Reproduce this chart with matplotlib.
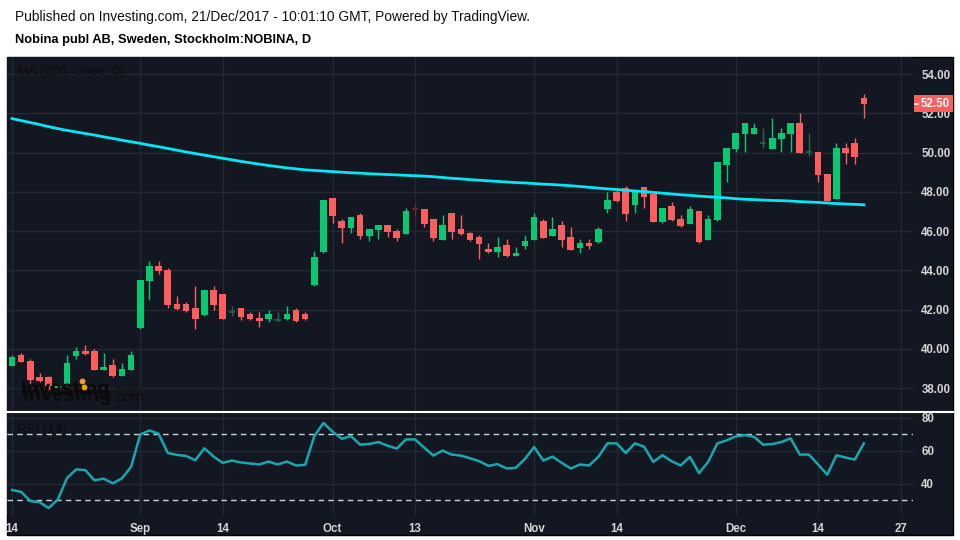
import numpy as np
import pandas as pd
import matplotlib
matplotlib.use("Agg")
import matplotlib.pyplot as plt
from matplotlib.patches import Rectangle
from matplotlib.lines import Line2D
from matplotlib.transforms import blended_transform_factory
import matplotlib.patheffects as pe

plt.rcParams['font.family'] = ['Liberation Sans', 'DejaVu Sans']

# Daily bars, NOBINA, 14 Aug 2017 - 21 Dec 2017
opens = [39.14, 39.68, 39.37, 38.56, 38.56, 37.90, 38.15, 39.63, 39.88, 39.88,
         38.92, 39.17, 38.61, 38.92, 41.06, 43.47, 44.21, 44.01, 42.28, 42.28,
         42.07, 41.72, 42.99, 42.79, 41.87, 42.07, 41.77, 41.56, 41.51, 41.46,
         41.51, 41.97, 41.77, 43.25, 44.93, 47.68, 46.51, 46.17, 46.82, 45.76,
         46.07, 46.31, 46.00, 45.86, 47.14, 47.12, 46.61, 45.56, 46.92, 46.10,
         45.90, 45.69, 45.08, 44.95, 45.29, 44.74, 45.25, 45.56, 46.51, 45.76,
         46.31, 45.69, 45.15, 45.39, 45.46, 47.14, 47.99, 48.19, 47.34, 48.27,
         47.90, 46.47, 47.27, 46.61, 46.37, 47.02, 45.56, 46.58, 49.38, 50.19,
         50.96, 50.96, 50.48, 50.19, 50.70, 50.96, 51.50, 50.02, 50.02, 48.90,
         47.65, 50.23, 50.48, 52.78]
highs = [39.68, 39.78, 39.48, 38.76, 38.60, 38.20, 39.68, 40.09, 40.19, 39.99,
         39.78, 39.48, 39.27, 39.88, 43.50, 44.47, 44.47, 44.11, 42.69, 42.38,
         43.20, 43.00, 43.20, 42.79, 42.18, 42.07, 41.87, 41.87, 41.97, 41.87,
         42.18, 42.07, 41.87, 44.98, 47.58, 47.68, 46.61, 46.71, 46.92, 46.10,
         46.31, 46.31, 46.10, 47.17, 47.38, 47.12, 46.61, 46.82, 46.92, 46.82,
         45.97, 45.80, 45.39, 45.69, 45.59, 45.18, 45.80, 46.92, 46.61, 46.71,
         46.51, 46.20, 45.59, 45.59, 46.20, 47.99, 48.19, 48.29, 48.02, 48.27,
         47.90, 47.17, 47.48, 46.81, 47.27, 47.02, 46.81, 49.52, 50.23, 50.99,
         51.50, 51.50, 51.25, 51.76, 51.25, 51.50, 52.01, 50.99, 50.02, 48.90,
         50.48, 50.48, 50.74, 52.98]
lows = [39.14, 39.32, 38.15, 38.30, 37.90, 37.85, 38.10, 39.49, 39.68, 38.92,
        38.92, 38.56, 38.60, 38.92, 41.00, 42.48, 43.82, 42.09, 41.97, 41.87,
        41.00, 41.67, 41.97, 41.51, 41.67, 41.46, 41.46, 41.11, 41.36, 41.36,
        41.46, 41.36, 41.46, 43.20, 44.90, 46.43, 45.41, 45.92, 45.61, 45.51,
        45.61, 45.71, 45.51, 45.86, 46.73, 46.22, 45.51, 45.56, 45.61, 45.81,
        45.51, 44.59, 44.90, 44.69, 44.69, 44.74, 45.10, 45.56, 45.66, 45.76,
        45.20, 45.05, 44.90, 45.10, 45.41, 46.93, 47.48, 46.53, 46.93, 47.19,
        46.47, 46.42, 46.53, 46.22, 46.37, 45.40, 45.56, 46.53, 48.51, 50.04,
        50.04, 50.96, 50.25, 50.19, 50.04, 50.04, 49.99, 49.84, 48.51, 47.54,
        47.65, 49.43, 49.43, 51.77]
closes = [39.56, 39.32, 38.40, 38.36, 38.10, 38.10, 39.27, 39.88, 39.73, 38.92,
          39.07, 38.61, 38.97, 39.68, 43.50, 44.21, 43.98, 42.23, 42.02, 41.92,
          41.51, 42.99, 42.23, 41.51, 41.88, 41.62, 41.51, 41.41, 41.77, 41.47,
          41.77, 41.41, 41.51, 44.67, 47.58, 46.78, 46.17, 46.71, 45.76, 46.10,
          46.31, 45.97, 45.66, 47.02, 47.12, 46.37, 45.66, 46.31, 45.97, 45.86,
          45.56, 45.36, 44.95, 45.18, 44.74, 44.88, 45.49, 46.71, 45.66, 46.10,
          45.56, 45.05, 45.39, 45.25, 46.10, 47.58, 47.53, 46.88, 48.02, 47.75,
          46.47, 47.17, 46.58, 46.27, 47.12, 45.45, 46.61, 49.52, 50.23, 50.99,
          51.50, 51.25, 50.49, 50.74, 50.99, 51.50, 49.99, 50.03, 48.87, 47.54,
          50.23, 49.99, 49.79, 52.50]
ma200 = [51.73, 51.63, 51.53, 51.43, 51.32, 51.22, 51.13, 51.05, 50.97, 50.89,
         50.80, 50.72, 50.63, 50.55, 50.47, 50.38, 50.30, 50.21, 50.12, 50.03,
         49.95, 49.87, 49.79, 49.71, 49.63, 49.55, 49.48, 49.41, 49.34, 49.28,
         49.22, 49.17, 49.12, 49.09, 49.06, 49.03, 49.00, 48.97, 48.95, 48.92,
         48.90, 48.88, 48.86, 48.84, 48.82, 48.80, 48.77, 48.73, 48.69, 48.66,
         48.62, 48.59, 48.56, 48.53, 48.50, 48.47, 48.45, 48.42, 48.39, 48.37,
         48.34, 48.31, 48.27, 48.23, 48.19, 48.15, 48.12, 48.08, 48.04, 48.01,
         47.97, 47.93, 47.89, 47.85, 47.82, 47.78, 47.75, 47.72, 47.69, 47.65,
         47.62, 47.60, 47.58, 47.56, 47.55, 47.53, 47.50, 47.48, 47.46, 47.43,
         47.40, 47.38, 47.36, 47.34]
rsi14 = [36.4, 35.2, 29.6, 29.0, 25.4, 30.6, 43.6, 48.8, 48.4, 42.2,
         43.2, 40.4, 43.4, 50.4, 70.0, 72.4, 70.4, 58.8, 57.6, 57.0,
         54.4, 61.6, 56.6, 52.8, 54.2, 53.0, 52.4, 51.8, 53.6, 51.8,
         53.6, 51.2, 51.6, 69.0, 77.0, 71.6, 67.4, 69.0, 63.8, 64.2,
         65.4, 63.2, 61.4, 67.0, 67.0, 62.0, 57.2, 60.2, 57.8, 57.2,
         55.6, 53.8, 51.0, 52.0, 49.4, 49.8, 55.2, 62.4, 54.2, 56.6,
         52.8, 49.4, 51.8, 51.2, 56.4, 64.6, 64.6, 58.8, 64.6, 62.6,
         53.4, 57.4, 53.8, 51.2, 56.4, 46.6, 53.4, 64.6, 66.4, 68.8,
         69.6, 68.6, 63.8, 64.2, 65.4, 67.6, 57.8, 57.8, 51.8, 45.6,
         57.4, 56.0, 54.8, 64.6]

price_ticks = [38, 40, 42, 44, 46, 48, 50, 52, 54]
rsi_ticks = [40, 60, 80]
tick_dates = ['2017-08-14', '2017-09-01', '2017-09-14', '2017-10-02', '2017-10-13',
              '2017-11-01', '2017-11-14', '2017-12-01', '2017-12-14', '2017-12-27']
tick_labels = ['14', 'Sep', '14', 'Oct', '13', 'Nov', '14', 'Dec', '14', '27']

# Colors
bg = '#131722'
grid_c = '#242833'
up_c = '#08c872'
down_c = '#fc5d5d'
up_doji = '#1f6b47'
down_doji = '#6e2626'
label_c = '#d6d6d6'

# Calendar: business days incl. empty future bars to 27 Dec
dates = pd.bdate_range('2017-08-14', '2017-12-29')
date_index = {d.strftime('%Y-%m-%d'): i for i, d in enumerate(dates)}
tick_pos = [date_index[d] for d in tick_dates]

W, H = 960, 540
fig = plt.figure(figsize=(9.6, 5.4), dpi=100, facecolor='white')

# dark chart panel
fig.add_artist(Rectangle((7 / W, 1 - 535 / H), 946 / W, 478 / H, transform=fig.transFigure,
                         facecolor=bg, edgecolor='#000000', linewidth=1, zorder=0))

ax_p = fig.add_axes([7 / W, 1 - 411 / H, 906 / W, 354 / H])
ax_r = fig.add_axes([7 / W, 1 - 515 / H, 906 / W, 103 / H])

xlim = (-0.55, 98.36)

for ax in (ax_p, ax_r):
    ax.set_facecolor(bg)
    for s in ax.spines.values():
        s.set_visible(False)
    ax.set_xlim(*xlim)
    ax.set_xticks(tick_pos)
    ax.grid(True, color=grid_c, linewidth=1)
    ax.set_axisbelow(True)
    ax.yaxis.tick_right()
    ax.tick_params(length=0, colors=label_c, labelsize=8.3)

# ---- price pane ----
x = np.arange(len(closes))
o = np.array(opens)
c = np.array(closes)
body_lo = np.minimum(o, c)
body_h = np.abs(c - o)
doji = body_h < 0.03
up = c >= o
colors = np.where(doji, np.where(up, up_doji, down_doji), np.where(up, up_c, down_c))

ax_p.vlines(x, lows, highs, colors=colors, linewidth=1, zorder=3)
ax_p.bar(x[~doji], body_h[~doji], bottom=body_lo[~doji], width=0.72,
         color=colors[~doji], linewidth=0, zorder=4)
ax_p.hlines(c[doji], x[doji] - 0.36, x[doji] + 0.36, colors=colors[doji], linewidth=1.2, zorder=4)

ax_p.plot(x, ma200, color='#00e8f5', linewidth=2, zorder=5)

ax_p.set_ylim(36.83, 54.87)
ax_p.set_yticks(price_ticks)
ax_p.set_yticklabels([f'{v:.2f}' for v in price_ticks], fontweight='bold')
ax_p.tick_params(axis='y', pad=6)
ax_p.tick_params(axis='x', labelbottom=False)

# last price marker on the price scale
tr = blended_transform_factory(ax_p.transAxes, ax_p.transData)
px_x = 1 / 906
px_y = (54.87 - 36.83) / 354
ax_p.add_patch(Rectangle((1 + 1 * px_x, closes[-1] - 8.5 * px_y), 39 * px_x, 17 * px_y,
                         transform=tr, facecolor='#fc5d5d', edgecolor='none',
                         clip_on=False, zorder=9))
ax_p.add_line(Line2D([1 + 2 * px_x, 1 + 5 * px_x], [closes[-1]] * 2, transform=tr,
                     color='white', linewidth=1.2, clip_on=False, zorder=10))
ax_p.text(1 + 8 * px_x, closes[-1], f'{closes[-1]:.2f}', transform=tr, va='center', ha='left',
          color='white', fontsize=8.3, fontweight='bold', zorder=10)

ax_p.text(10 / 906, 1 - 15 / 354, 'MA (200, close, 0)', transform=ax_p.transAxes,
          va='center', ha='left', color='#0b0b0f', fontsize=9.5)

# Investing.com watermark (doubled logo)
double = [pe.withSimplePatchShadow(offset=(1.5, -4.5), shadow_rgbFace='#0a0a0a', alpha=1.0),
          pe.Normal()]
fig.text(21 / W, 1 - 389 / H, 'Investing', fontsize=14.5, fontweight='bold',
         color='#0a0a0a', va='center', ha='left', zorder=6, path_effects=double)
fig.text(110 / W, 1 - 391 / H, '.com', fontsize=10.5,
         color='#151515', va='center', ha='left', zorder=6, path_effects=double)
fig.add_artist(Line2D([82 / W], [1 - 381 / H], marker='o', markersize=3.2,
                      color='#f0a020', linestyle='none', zorder=7))
fig.add_artist(Line2D([84 / W], [1 - 387 / H], marker='o', markersize=3.2,
                      color='#f0a020', linestyle='none', zorder=7))

# ---- RSI pane ----
ax_r.plot(x, rsi14, color='#17a8ae', linewidth=1.8, zorder=4)
ax_r.axhline(70, color='#c4d4d6', linewidth=1, dashes=(4, 3), zorder=3)
ax_r.axhline(30, color='#c4d4d6', linewidth=1, dashes=(4, 3), zorder=3)
ax_r.set_ylim(21.2, 83.6)
ax_r.set_yticks(rsi_ticks)
ax_r.set_yticklabels([str(v) for v in rsi_ticks], fontweight='bold')
ax_r.tick_params(axis='y', pad=6)
ax_r.set_xticklabels(tick_labels, fontweight='bold')
ax_r.tick_params(axis='x', pad=6)
ax_r.text(10 / 906, 1 - 18 / 103, 'RSI (14)', transform=ax_r.transAxes,
          va='center', ha='left', color='#0b0b0f', fontsize=9.5)

# pane separator
fig.add_artist(Line2D([7 / W, 953 / W], [1 - 411.5 / H] * 2, color='white',
                      linewidth=1.5, zorder=8))

# header
fig.text(15 / W, 1 - 17 / H, 'Published on Investing.com, 21/Dec/2017 - 10:01:10 GMT, Powered by TradingView.',
         fontsize=9.95, color='#111111', va='center', ha='left')
fig.text(15 / W, 1 - 40 / H, 'Nobina publ AB, Sweden, Stockholm:NOBINA, D',
         fontsize=9.25, fontweight='bold', color='#000000', va='center', ha='left')

fig.savefig('out.png', dpi=100, facecolor='white')
